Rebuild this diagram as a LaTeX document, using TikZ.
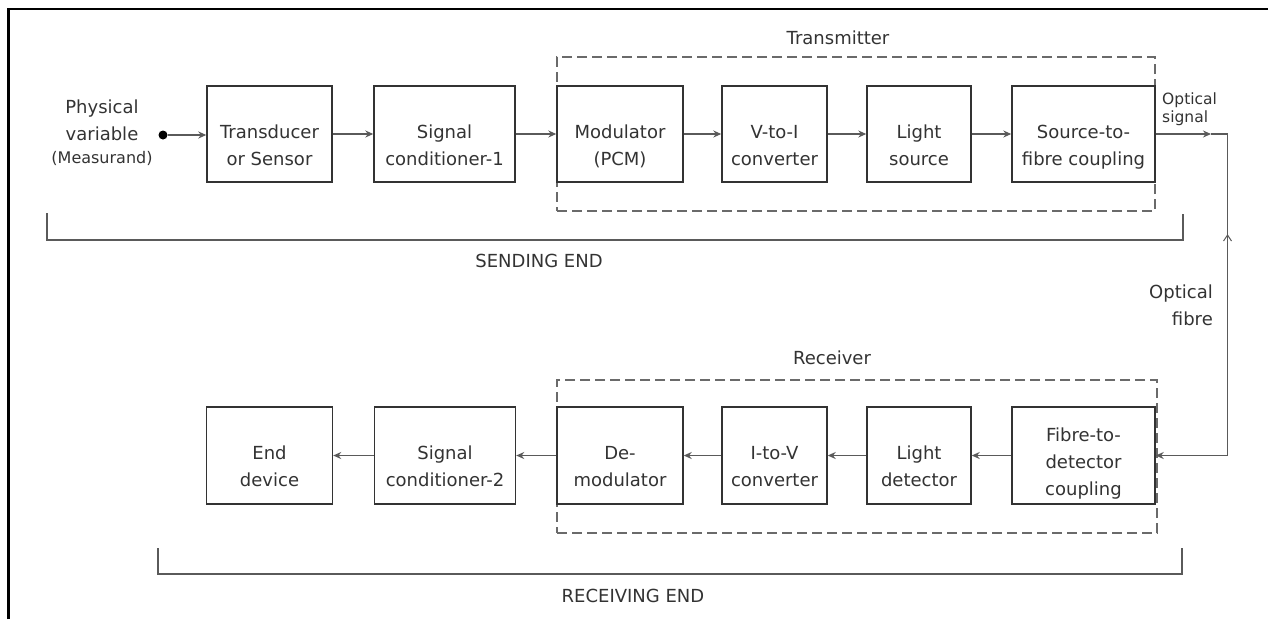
\documentclass[tikz,border=0pt]{standalone}
\usepackage{fontspec}
\setmainfont{DejaVu Sans}
\usetikzlibrary{arrows.meta}
\definecolor{ink}{HTML}{333333}
\definecolor{lgray}{HTML}{5a5a5a}
\definecolor{dgray}{HTML}{6a6a6a}
\newcommand{\twol}[2]{\rule{0pt}{40pt}#1\\#2\rule[-5pt]{0pt}{5pt}}
\newcommand{\threel}[3]{\rule{0pt}{31.5pt}#1\\#2\\#3\rule[-5pt]{0pt}{5pt}}
\begin{document}
\begin{tikzpicture}[x=1pt,y=-1pt,
  blk/.style={draw=ink,fill=white,line width=1.4pt,text=ink,align=center,inner sep=0pt,
              minimum height=96pt,font=\fontsize{18}{27}\selectfont},
  conn/.style={draw=lgray,line width=1.4pt,-{Stealth[length=8pt,width=7pt]}},
  plainln/.style={draw=lgray,line width=1.4pt},
  grp/.style={draw=dgray,line width=1.6pt,dash pattern=on 10pt off 5pt,inner sep=0pt},
  brk/.style={draw=lgray,line width=1.6pt},
  lbl/.style={text=ink,font=\fontsize{18}{27}\selectfont,inner sep=0pt},
  slbl/.style={text=ink,font=\fontsize{15.5}{18}\selectfont,inner sep=0pt},
]
\useasboundingbox (0,0) rectangle (1268,619);

% outer frame (top and left)
\draw[black,line width=2.6pt] (8.5,619) -- (8.5,9) -- (1268,9);

% group boxes
\node[grp,minimum width=598pt,minimum height=154pt] (tx) at (856,134) {};
\node[grp,minimum width=600pt,minimum height=153pt] (rx) at (857,456.5) {};
\node[lbl] (txl) at (838,38) {Transmitter};
\node[lbl] (rxl) at (832,358) {Receiver};

% top row
\node[blk,minimum width=125pt] (td)  at (269.5,134) {\twol{Transducer}{or Sensor}};
\node[blk,minimum width=141pt] (sc1) at (444.5,134) {\twol{Signal}{conditioner-1}};
\node[blk,minimum width=126pt] (mod) at (620,134)   {\twol{Modulator}{(PCM)}};
\node[blk,minimum width=105pt] (vi)  at (774.5,134) {\twol{V-to-I}{converter}};
\node[blk,minimum width=104pt] (ls)  at (919,134)   {\twol{Light}{source}};
\node[blk,minimum width=143pt] (stf) at (1083.5,134){\twol{Source-to-}{fibre coupling}};

% bottom row
\node[blk,minimum width=126pt,minimum height=97pt] (ed)  at (269.5,455.5) {\twol{End}{device}};
\node[blk,minimum width=141pt,minimum height=97pt] (sc2) at (445,455.5)   {\twol{Signal}{conditioner-2}};
\node[blk,minimum width=126pt,minimum height=97pt] (dem) at (620,455.5)   {\twol{De-}{modulator}};
\node[blk,minimum width=105pt,minimum height=97pt] (iv)  at (774.5,455.5) {\twol{I-to-V}{converter}};
\node[blk,minimum width=104pt,minimum height=97pt] (ld)  at (919,455.5)   {\twol{Light}{detector}};
\node[blk,minimum width=143pt,minimum height=97pt] (ftd) at (1083.5,455.5){\threel{Fibre-to-}{detector}{coupling}};

% input
\node[align=center,text=ink,inner sep=0pt,font=\fontsize{18}{27}\selectfont] (pv) at (102,133)
  {Physical\\variable\\[-4pt]{\fontsize{16}{18}\selectfont (Measurand)}};
\node[circle,fill=black,inner sep=0pt,minimum size=9pt] (dot) at (163,135) {};
\draw[conn] (dot) -- (dot -| td.west);

% top arrows
\draw[conn] (td) -- (sc1);
\draw[conn] (sc1) -- (mod);
\draw[conn] (mod) -- (vi);
\draw[conn] (vi) -- (ls);
\draw[conn] (ls) -- (stf);

% optical fibre path
\coordinate (ostip) at (1211,134);
\coordinate (c1) at (1227.5,134);
\coordinate (c2) at (c1 |- ftd.east);
\draw[conn] (stf.east) -- (ostip);
\draw[conn] (ostip) -- (c1) -- (c2) -- (ftd.east);
\draw[plainln,line width=1pt] (1223.5,241) -- (1227.5,235) -- (1231.5,241);
\node[slbl,anchor=west,align=left] (osl) at (1162,109) {Optical\\signal};
\node[lbl,anchor=east,align=right] (ofl) at (1213,305) {Optical\\fibre};

% bottom arrows
\draw[conn] (ftd) -- (ld);
\draw[conn] (ld) -- (iv);
\draw[conn] (iv) -- (dem);
\draw[conn] (dem) -- (sc2);
\draw[conn] (sc2) -- (ed);

% brackets
\coordinate (sa) at (47,213);
\coordinate (sb) at (47,240);
\coordinate (sc) at (1183,240);
\coordinate (sd) at (1183,214);
\draw[brk] (sa) -- (sb) -- (sc) -- (sd);
\node[lbl] (sel) at (539,261) {SENDING END};
\coordinate (ra) at (158,548);
\coordinate (rb) at (158,574);
\coordinate (rc) at (1182,574);
\coordinate (rd) at (1182,548);
\draw[brk] (ra) -- (rb) -- (rc) -- (rd);
\node[lbl] (rel) at (633,596) {RECEIVING END};
\end{tikzpicture}
\end{document}
